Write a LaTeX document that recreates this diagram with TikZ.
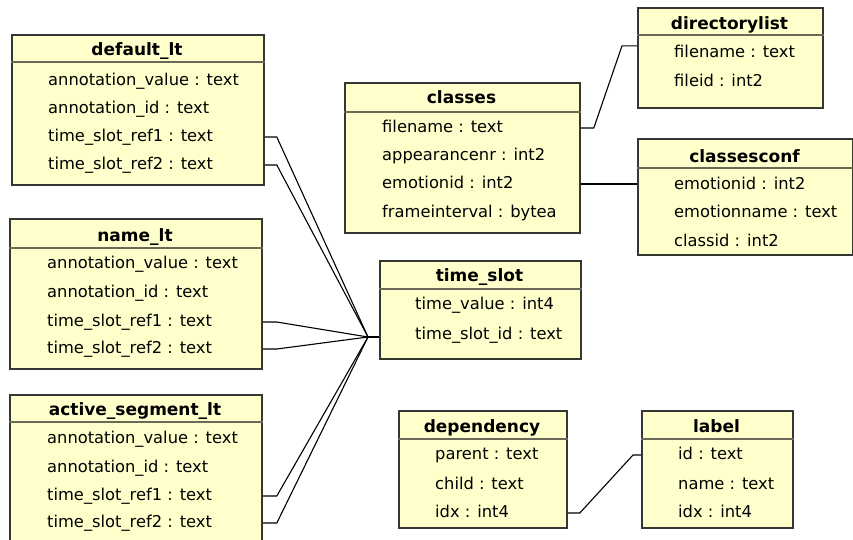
\documentclass[tikz,border=0pt]{standalone}
\usepackage{fontspec}
\setmainfont{DejaVu Sans}
\usetikzlibrary{calc}

\definecolor{boxfill}{RGB}{255,255,204}
\definecolor{boxline}{RGB}{55,55,50}
\definecolor{sepcol}{RGB}{105,105,90}

\tikzset{
  tablebox/.style={draw=boxline, fill=boxfill, line width=1.8pt, inner sep=0pt, rectangle},
  sepline/.style={draw=sepcol, line width=2.2pt},
  titletext/.style={anchor=base, inner sep=0pt, font=\fontsize{17}{20}\selectfont\bfseries},
  rowtext/.style={anchor=base west, inner sep=0pt, text height=11pt, text depth=3pt,
                  font=\fontsize{16.3}{19}\selectfont},
  link/.style={draw=black, line width=1.1pt},
}

% #1 name, #2 left, #3 top, #4 right, #5 bottom, #6 separator, #7 title baseline, #8 title
\newcommand\erbox[8]{%
  \node[tablebox, anchor=north west,
        minimum width={(#4-#2)*1pt}, minimum height={(#5-#3)*1pt}] (#1) at (#2,#3) {};
  \draw[sepline] (#1.west |- 0,#6) -- (#1.east |- 0,#6);
  \node[titletext] (#1-t) at ({(#2+#4)/2},#7) {#8};
}
% #1 name, #2 x, #3 baseline, #4 text
\newcommand\errow[4]{\node[rowtext] (#1) at (#2,#3) {#4};}

\begin{document}
\begin{tikzpicture}[x=1pt, y=-1pt]
\clip (0,0) rectangle (853,539);
\fill[white] (0,0) rectangle (853,539);

% default_lt
\erbox{dflt}{11}{34}{263}{184}{62}{55}{default\_lt}
\errow{dflt-1}{48}{85}{annotation\_value : text}
\errow{dflt-2}{48}{113}{annotation\_id : text}
\errow{dflt-3}{48}{141}{time\_slot\_ref1 : text}
\errow{dflt-4}{48}{169}{time\_slot\_ref2 : text}

% name_lt
\erbox{namelt}{9}{218}{261}{368}{248}{241}{name\_lt}
\errow{namelt-1}{47}{268}{annotation\_value : text}
\errow{namelt-2}{47}{297}{annotation\_id : text}
\errow{namelt-3}{47}{326}{time\_slot\_ref1 : text}
\errow{namelt-4}{47}{353}{time\_slot\_ref2 : text}

% active_segment_lt
\erbox{act}{9}{394}{261}{570}{422}{415}{active\_segment\_lt}
\errow{act-1}{47}{443}{annotation\_value : text}
\errow{act-2}{47}{472}{annotation\_id : text}
\errow{act-3}{47}{500}{time\_slot\_ref1 : text}
\errow{act-4}{47}{527}{time\_slot\_ref2 : text}

% classes
\erbox{cls}{344}{82}{579}{232}{112}{103}{classes}
\errow{cls-1}{382}{132}{filename : text}
\errow{cls-2}{382}{160}{appearancenr : int2}
\errow{cls-3}{382}{188}{emotionid : int2}
\errow{cls-4}{382}{217}{frameinterval : bytea}

% directorylist
\erbox{dl}{637}{7}{822}{107}{35}{29}{directorylist}
\errow{dl-1}{674}{57}{filename : text}
\errow{dl-2}{674}{86}{fileid : int2}

% classesconf
\erbox{cc}{637}{138}{852}{254}{168}{162}{classesconf}
\errow{cc-1}{674}{189}{emotionid : int2}
\errow{cc-2}{674}{217}{emotionname : text}
\errow{cc-3}{674}{246}{classid : int2}

% time_slot
\erbox{ts}{379}{260}{580}{358}{289}{281}{time\_slot}
\errow{ts-1}{415}{309}{time\_value : int4}
\errow{ts-2}{415}{339}{time\_slot\_id : text}

% dependency
\erbox{dep}{398}{410}{566}{527}{439}{432}{dependency}
\errow{dep-1}{435}{459}{parent : text}
\errow{dep-2}{435}{489}{child : text}
\errow{dep-3}{435}{517}{idx : int4}

% label
\erbox{lbl}{641}{410}{792}{527}{439}{432}{label}
\errow{lbl-1}{678}{459}{id : text}
\errow{lbl-2}{678}{489}{name : text}
\errow{lbl-3}{678}{517}{idx : int4}

% references to time_slot
\coordinate (hub) at (368,337);
\draw[link] (dflt.east |- dflt-3) -- ++(12,0) -- (hub);
\draw[link] (dflt.east |- dflt-4) -- ++(12,0) -- (hub);
\draw[link] (namelt.east |- namelt-3) -- ++(14,0) -- (hub);
\draw[link] (namelt.east |- namelt-4) -- ++(14,0) -- (hub);
\draw[link] (act.east |- act-3) -- ++(14,0) -- (hub);
\draw[link] (act.east |- act-4) -- ++(14,0) -- (hub);
\draw[link] (hub) -- (ts.west |- hub);

% classes relations
\draw[link] (cls.east |- cls-1) -- ++(13,0)
  -- ($(dl.west |- dl-1.north)+(-15,0)$) -- (dl.west |- dl-1.north);
\draw[link] (cls.east |- cls-3) -- (cc.west |- cls-3);

% dependency to label
\draw[link] (dep.east |- dep-3) -- ++(12,0)
  -- ($(lbl.west |- lbl-1)+(-8,0)$) -- (lbl.west |- lbl-1);
\end{tikzpicture}
\end{document}
